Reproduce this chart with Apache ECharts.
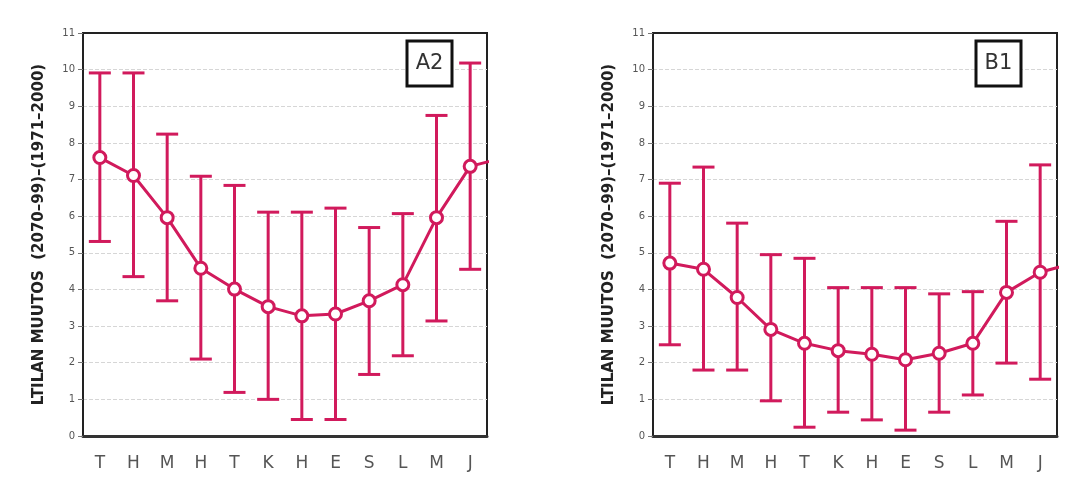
<!DOCTYPE html>
<html>
<head>
<meta charset="utf-8">
<script src="https://cdn.jsdelivr.net/npm/echarts@6/dist/echarts.min.js"></script>
<style>
html,body{margin:0;padding:0;background:#fff;}
#chart{width:1070px;height:481px;}
</style>
</head>
<body>
<div id="chart"></div>
<script>
const months = ['T','H','M','H','T','K','H','E','S','L','M','J'];
const yTicks = [0,1,2,3,4,5,6,7,8,9,10,11];
const yTitle = 'LTILAN MUUTOS  (2070–99)–(1971–2000)';

const panelNames = ['A2','B1'];
const a2Mean  = [7.60, 7.11, 5.96, 4.58, 4.01, 3.53, 3.28, 3.33, 3.69, 4.13, 5.96, 7.36];
const a2Upper = [9.91, 9.91, 8.24, 7.09, 6.84, 6.11, 6.11, 6.22, 5.69, 6.07, 8.75, 10.18];
const a2Lower = [5.31, 4.35, 3.69, 2.10, 1.19, 1.00, 0.45, 0.45, 1.68, 2.19, 3.14, 4.55];

const b1Mean  = [4.72, 4.55, 3.78, 2.91, 2.53, 2.33, 2.23, 2.08, 2.26, 2.53, 3.92, 4.47];
const b1Upper = [6.90, 7.34, 5.81, 4.95, 4.85, 4.05, 4.05, 4.05, 3.88, 3.94, 5.86, 7.40];
const b1Lower = [2.49, 1.80, 1.80, 0.96, 0.24, 0.65, 0.44, 0.16, 0.65, 1.12, 1.99, 1.55];

const panels = [
  {name: panelNames[0], mean: a2Mean, upper: a2Upper, lower: a2Lower},
  {name: panelNames[1], mean: b1Mean, upper: b1Upper, lower: b1Lower}
];

const RED = '#d11a5c';
const gridLefts = [83, 653];

const chart = echarts.init(document.getElementById('chart'), null, {renderer: 'canvas'});

const grid = [], xAxis = [], yAxis = [], series = [], graphic = [];

panels.forEach((p, i) => {
  grid.push({left: gridLefts[i], top: 33, width: 404, height: 403,
    show: true, borderColor: '#222', borderWidth: 2, backgroundColor: '#fff'});
  // visible category axis for labels
  xAxis.push({type: 'category', gridIndex: i, data: months, boundaryGap: true,
    axisLine: {show: true, onZero: false, lineStyle: {color: '#333', width: 3}},
    axisTick: {show: false},
    axisLabel: {color: '#555', fontSize: 17, margin: 19, fontFamily: 'DejaVu Sans'},
    splitLine: {show: false}});
  // hidden value axis for drawing
  xAxis.push({type: 'value', gridIndex: i, min: -0.5, max: 11.5, show: false});
  yAxis.push({type: 'value', gridIndex: i, min: yTicks[0], max: yTicks[yTicks.length-1], interval: 1,
    name: yTitle, nameLocation: 'middle', nameGap: 36, nameRotate: 90,
    nameTextStyle: {color: '#222', fontSize: 15, fontWeight: 'bold', fontFamily: 'DejaVu Sans'},
    axisLine: {show: true, onZero: false, lineStyle: {color: '#222', width: 2}},
    axisTick: {show: true, length: 5, lineStyle: {color: '#777'}},
    axisLabel: {color: '#555', fontSize: 10, margin: 8, fontFamily: 'DejaVu Sans'},
    splitLine: {show: true, showMinLine: false, showMaxLine: false,
      lineStyle: {color: '#d6d6d6', type: 'dashed', width: 1}}});

  const xi = i * 2 + 1;
  // error bars
  series.push({type: 'custom', xAxisIndex: xi, yAxisIndex: i, z: 2,
    data: p.mean.map((m, k) => [k, p.lower[k], p.upper[k]]),
    renderItem: function (params, api) {
      const x = api.value(0);
      const lo = api.coord([x, api.value(1)]);
      const hi = api.coord([x, api.value(2)]);
      const hw = 11;
      const st = {stroke: RED, lineWidth: 3, fill: null};
      return {type: 'group', children: [
        {type: 'line', shape: {x1: lo[0], y1: lo[1], x2: hi[0], y2: hi[1]}, style: st},
        {type: 'line', shape: {x1: lo[0]-hw, y1: lo[1], x2: lo[0]+hw, y2: lo[1]}, style: st},
        {type: 'line', shape: {x1: hi[0]-hw, y1: hi[1], x2: hi[0]+hw, y2: hi[1]}, style: st}
      ]};
    }});
  // connecting line, wrapping to the next January (clipped at plot edge)
  const lineData = p.mean.map((m, k) => [k, m]);
  lineData.push([12, p.mean[0]]);
  series.push({type: 'line', xAxisIndex: xi, yAxisIndex: i, z: 3, clip: true,
    data: lineData, showSymbol: false, lineStyle: {color: RED, width: 3}, silent: true});
  // markers
  series.push({type: 'scatter', xAxisIndex: xi, yAxisIndex: i, z: 4,
    data: p.mean.map((m, k) => [k, m]), symbol: 'circle', symbolSize: 12,
    itemStyle: {color: '#fff', borderColor: RED, borderWidth: 3, opacity: 1}});

  const bx = gridLefts[i] + (i === 0 ? 324 : 323);
  graphic.push({type: 'rect', x: bx, y: 41, z: 10, shape: {x: 0, y: 0, width: 45, height: 45},
    style: {fill: '#fff', stroke: '#111', lineWidth: 3}});
  graphic.push({type: 'text', x: bx + 22.5, y: 64, z: 11,
    style: {text: p.name, fontSize: 21, fill: '#333', fontFamily: 'DejaVu Sans',
      align: 'center', verticalAlign: 'middle'}});
});

chart.setOption({
  backgroundColor: '#fff',
  animation: false,
  grid, xAxis, yAxis, series, graphic
});
</script>
</body>
</html>
